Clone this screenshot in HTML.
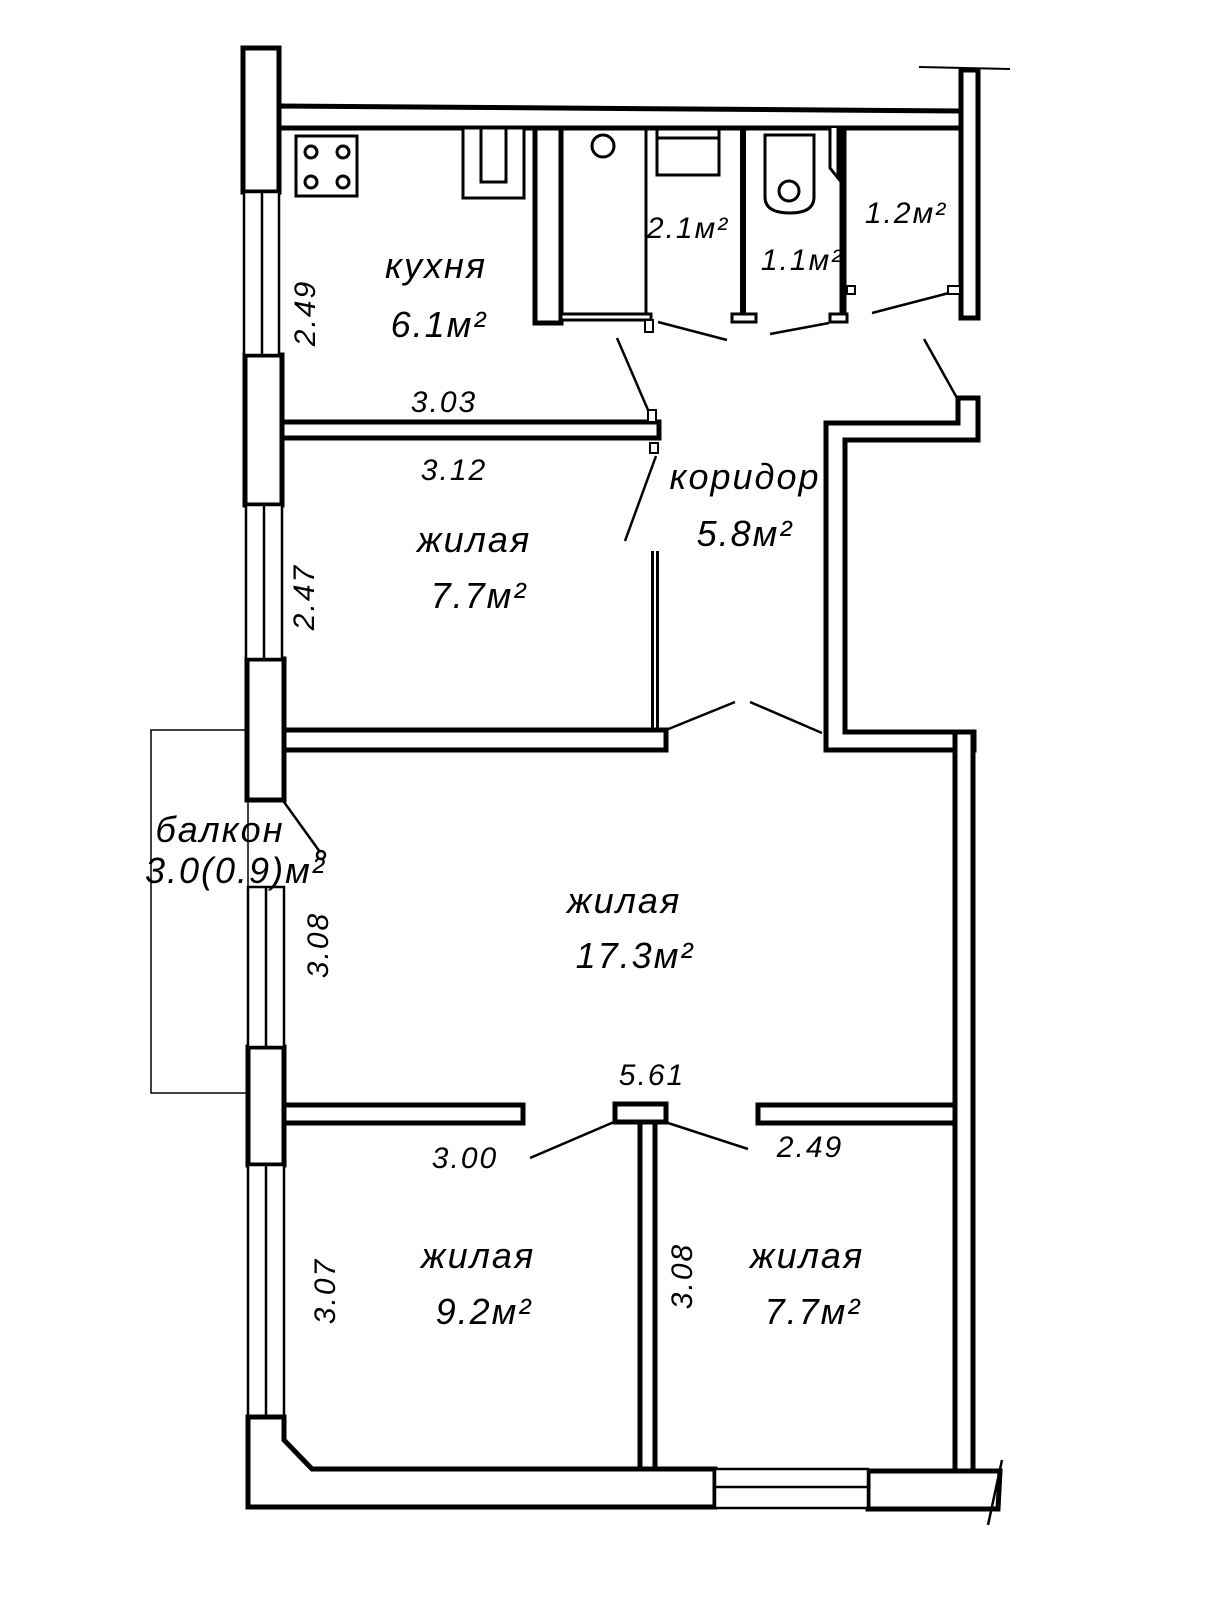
<!DOCTYPE html>
<html><head><meta charset="utf-8"><style>
html,body{margin:0;padding:0;background:#fff}
svg{display:block}
text{font-family:"Liberation Sans Narrow","Liberation Sans",sans-serif;font-style:italic;fill:#000}
</style></head><body>
<svg width="1228" height="1600" viewBox="0 0 1228 1600" xmlns="http://www.w3.org/2000/svg">
<g fill="#fff" stroke="#000" stroke-width="5" stroke-linejoin="miter">
<rect x="151" y="730" width="97" height="363" stroke-width="1.5"/>
<rect x="243" y="48" width="36" height="144"/>
<rect x="245" y="355" width="37" height="150"/>
<rect x="247" y="659" width="37" height="141"/>
<rect x="248" y="1047" width="36" height="118"/>
<g stroke-width="2.5">
<rect x="244" y="192" width="35" height="163"/><line x1="262" y1="192" x2="262" y2="355"/>
<rect x="246" y="505" width="36" height="154"/><line x1="264" y1="505" x2="264" y2="659"/>
<rect x="248" y="887" width="36" height="160"/><line x1="266" y1="887" x2="266" y2="1047"/>
<rect x="248" y="1165" width="36" height="252"/><line x1="266" y1="1165" x2="266" y2="1417"/>
</g>
<polygon points="279,106 961,111 961,128 279,128"/>
<rect x="961" y="70" width="17" height="248"/>
<line x1="919" y1="67" x2="1010" y2="69" stroke-width="2"/>
<rect x="535" y="128" width="26" height="195"/>
<line x1="646" y1="128" x2="646" y2="316" stroke-width="3"/>
<rect x="561" y="314" width="90" height="6" stroke-width="3"/>
<rect x="645" y="320" width="8" height="12" stroke-width="2"/>
<line x1="743" y1="128" x2="743" y2="316" stroke-width="6"/>
<rect x="732" y="314" width="24" height="8" stroke-width="3"/>
<line x1="843" y1="128" x2="843" y2="318" stroke-width="7"/>
<rect x="830" y="314" width="17" height="8" stroke-width="3"/>
<rect x="847" y="286" width="8" height="8" stroke-width="2"/>
<rect x="948" y="286" width="12" height="8" stroke-width="2"/>
<g stroke-width="3">
<rect x="296" y="136" width="61" height="60"/>
<circle cx="311" cy="152" r="6"/><circle cx="343" cy="152" r="6"/>
<circle cx="311" cy="182" r="6"/><circle cx="343" cy="182" r="6"/>
<rect x="463" y="128" width="61" height="70"/><rect x="481" y="128" width="25" height="54"/>
<circle cx="603" cy="146" r="11"/>
<rect x="657" y="129" width="62" height="46"/><line x1="657" y1="138" x2="719" y2="138"/>
<path d="M765,135 h49 v62 q0,16 -24,16 q-25,0 -25,-16 z"/>
<circle cx="789" cy="191" r="10"/>
<path d="M830,128 v40 l8,10 v-50"/>
</g>
<rect x="282" y="422" width="377" height="16"/>
<rect x="648" y="410" width="8" height="12" stroke-width="2"/>
<rect x="650" y="443" width="8" height="10" stroke-width="2"/>
<line x1="655" y1="551" x2="655" y2="731" stroke-width="8"/>
<line x1="655" y1="551" x2="655" y2="731" stroke="#fff" stroke-width="2"/>
<polygon points="826,423 958,423 958,398 978,398 978,440 845,440 845,732 974,732 974,750 826,750"/>
<rect x="284" y="730" width="382" height="20"/>
<rect x="955" y="732" width="18" height="741"/>
<rect x="284" y="1105" width="239" height="18"/>
<rect x="615" y="1104" width="51" height="18"/>
<rect x="758" y="1105" width="197" height="18"/>
<rect x="640" y="1122" width="15" height="347"/>
<polygon points="248,1417 284,1417 284,1440 312,1469 640,1469 655,1469 715,1469 715,1507 248,1507"/>
<polygon points="868,1471 949,1471 968,1471 1000,1471 998,1509 868,1509"/>
<rect x="715" y="1469" width="153" height="39" stroke-width="2.5"/>
<line x1="715" y1="1487" x2="868" y2="1487" stroke-width="2.5"/>
<line x1="1002" y1="1460" x2="988" y2="1525" stroke-width="2.5"/>
</g>
<g stroke="#000" stroke-width="2.5" fill="none">
<line x1="658" y1="322" x2="727" y2="340"/>
<line x1="770" y1="334" x2="829" y2="323"/>
<line x1="872" y1="313" x2="949" y2="293"/>
<line x1="924" y1="339" x2="957" y2="398"/>
<line x1="617" y1="338" x2="648" y2="410"/>
<line x1="656" y1="456" x2="625" y2="541"/>
<line x1="666" y1="730" x2="735" y2="702"/>
<line x1="750" y1="702" x2="822" y2="733"/>
<line x1="284" y1="802" x2="320" y2="852"/>
<circle cx="321" cy="855" r="4"/>
<line x1="530" y1="1158" x2="614" y2="1122"/>
<line x1="665" y1="1122" x2="748" y2="1149"/>
</g>
<g font-size="36" letter-spacing="2">
<text x="436" y="278" text-anchor="middle">кухня</text>
<text x="439" y="337" text-anchor="middle">6.1м²</text>
<text x="745" y="489" text-anchor="middle">коридор</text>
<text x="745" y="546" text-anchor="middle">5.8м²</text>
<text x="474" y="552" text-anchor="middle">жилая</text>
<text x="479" y="608" text-anchor="middle">7.7м²</text>
<text x="220" y="842" text-anchor="middle">балкон</text>
<text x="145" y="883">3.0(0.9)м²</text>
<text x="624" y="913" text-anchor="middle">жилая</text>
<text x="635" y="968" text-anchor="middle">17.3м²</text>
<text x="478" y="1268" text-anchor="middle">жилая</text>
<text x="484" y="1324" text-anchor="middle">9.2м²</text>
<text x="807" y="1268" text-anchor="middle">жилая</text>
<text x="813" y="1324" text-anchor="middle">7.7м²</text>
</g>
<g font-size="30" letter-spacing="2">
<text x="688" y="238" text-anchor="middle">2.1м²</text>
<text x="802" y="270" text-anchor="middle">1.1м²</text>
<text x="906" y="223" text-anchor="middle">1.2м²</text>
<text x="444" y="412" text-anchor="middle">3.03</text>
<text x="454" y="480" text-anchor="middle">3.12</text>
<text x="652" y="1085" text-anchor="middle">5.61</text>
<text x="465" y="1168" text-anchor="middle">3.00</text>
<text x="810" y="1157" text-anchor="middle">2.49</text>
<text transform="translate(315,313) rotate(-90)" text-anchor="middle">2.49</text>
<text transform="translate(314,597) rotate(-90)" text-anchor="middle">2.47</text>
<text transform="translate(328,945) rotate(-90)" text-anchor="middle">3.08</text>
<text transform="translate(335,1291) rotate(-90)" text-anchor="middle">3.07</text>
<text transform="translate(692,1276) rotate(-90)" text-anchor="middle">3.08</text>
</g>
</svg>
</body></html>
